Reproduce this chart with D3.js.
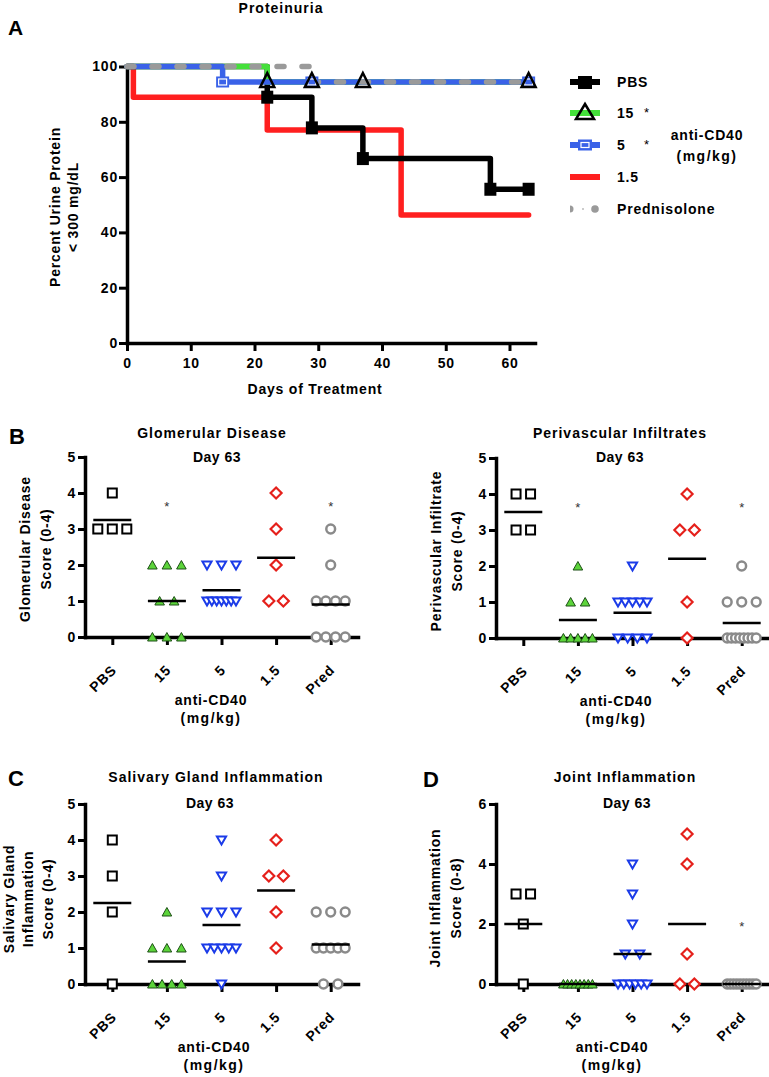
<!DOCTYPE html>
<html>
<head>
<meta charset="utf-8">
<script src="https://cdn.jsdelivr.net/npm/d3@7"></script>
<style>
body { margin:0; background:#fff; }
</style>
</head>
<body>
<div id="plothere"></div>
<script>
var FONT = '"Liberation Sans", Arial, Helvetica, sans-serif';

// ---- panel A data (Kaplan-Meier, percent urine protein < 300 mg/dL)
var dayTicks = [0, 10, 20, 30, 40, 50, 60];
var pctTicks = [0, 20, 40, 60, 80, 100];
var kmLabels = ["PBS", "15", "5", "1.5", "Prednisolone"];
var pbsDays = [0, 22, 29, 37, 57, 63], pbsPct = [100, 88.9, 77.8, 66.7, 55.6, 55.6];
var d15Days = [0, 22, 63], d15Pct = [100, 94.4, 94.4];
var d5Days = [0, 15, 63], d5Pct = [100, 94.4, 94.4];
var d1_5Days = [0, 1, 22, 43, 63], d1_5Pct = [100, 88.9, 77.0, 46.3, 46.3];
var predDays = [0, 29, 63], predPct = [100, 94.4, 94.4];
var pbsMarks = [22, 29, 37, 57, 63];
var d15Marks = [22, 29, 37, 63];
var d5Marks = [15, 29, 63];

// ---- panels B-D data (individual scores, day 63)
var groups = ["PBS", "15", "5", "1.5", "Pred"];
var glomScores = [[4,3,3,3], [2,2,2,1,1,0,0,0], [2,2,2,1,1,1,1,1,1,1], [4,3,2,1,1], [3,2,1,1,1,1,0,0,0,0]];
var periScores = [[4,4,3,3], [2,1,1,0,0,0,0,0], [2,1,1,1,1,1,0,0,0,0], [4,3,3,1,0], [2,1,1,1,0,0,0,0,0,0,0,0]];
var salivScores = [[4,3,2,0], [2,1,1,1,0,0,0,0], [4,3,2,2,2,1,1,1,1,1,0], [4,3,3,2,1], [2,2,2,1,1,1,1,1,0,0]];
var jointScores = [[3,3,2,0], [0,0,0,0,0,0,0,0], [4,3,2,1,1,0,0,0,0,0,0], [5,4,1,0,0], [0,0,0,0,0,0,0,0,0,0]];
// level where the significance star sits (null = none)
var glomStars = [null, 3.7, null, null, 3.7];
var periStars = [null, 3.7, null, null, 3.7];
var salivStars = [null, null, null, null, null];
var jointStars = [null, null, null, null, 2];

var svg = d3.select("#plothere").append("svg")
  .attr("width", 769).attr("height", 1077)
  .style("background", "#fff")
  .attr("font-family", FONT).attr("font-weight", "bold");

function txt(g, x, y, s, size, anchor, ls) {
  return g.append("text").attr("x", x).attr("y", y).text(s)
    .attr("font-size", size || 14).attr("text-anchor", anchor || "middle")
    .attr("letter-spacing", ls == null ? 0.8 : ls).attr("fill", "#000");
}
function vtxt(g, x, y, s) {
  return g.append("text").attr("transform", "translate(" + x + "," + y + ") rotate(-90)")
    .attr("text-anchor", "middle").attr("font-size", 14).attr("letter-spacing", 0.8).text(s);
}
function styleAxis(a) {
  a.attr("font-family", FONT).attr("font-size", 14).attr("font-weight", "bold");
  a.select(".domain").attr("stroke", "#000").attr("stroke-width", 3.5).attr("stroke-linecap", "square");
  a.selectAll(".tick line").attr("stroke", "#000").attr("stroke-width", 3);
  a.selectAll(".tick text").attr("fill", "#000").attr("letter-spacing", 0.8);
}

// ================= Panel A =================
var gA = svg.append("g");
var xA = d3.scaleLinear().domain([0, 64]).range([127, 535]);
var yA = d3.scaleLinear().domain([0, 100]).range([343, 66.5]);
txt(gA, 281, 13, "Proteinuria", 14, "middle", 1);
txt(gA, 8, 35, "A", 21, "start", 0);

var axA = gA.append("g").attr("transform", "translate(0,343)")
  .call(d3.axisBottom(xA).tickValues(dayTicks).tickSize(8).tickSizeOuter(0).tickPadding(7).tickFormat(d3.format("d")));
styleAxis(axA);
var ayA = gA.append("g").attr("transform", "translate(127,0)")
  .call(d3.axisLeft(yA).tickValues(pctTicks).tickSize(8).tickSizeOuter(0).tickPadding(1).tickFormat(d3.format("d")));
styleAxis(ayA);
txt(gA, 315, 394, "Days of Treatment");
vtxt(gA, 60, 207, "Percent Urine Protein");
vtxt(gA, 78, 207, "< 300 mg/dL");

function zip(ds, ps) { return ds.map(function(d, i) { return [d, ps[i]]; }); }
var km = [
  {name: "1.5", pts: zip(d1_5Days, d1_5Pct), color: "#ff1f1f", dash: null},
  {name: "PBS", pts: zip(pbsDays, pbsPct), color: "#000000", dash: null},
  {name: "15", pts: zip(d15Days, d15Pct), color: "#44e03a", dash: null},
  {name: "5", pts: zip(d5Days, d5Pct), color: "#3a62e8", dash: null},
  {name: "Prednisolone", pts: zip(predDays, predPct), color: "#9a9a9a", dash: "7,18"}
];
var kmLine = d3.line().curve(d3.curveStepAfter)
  .x(function(d) { return xA(d[0]); }).y(function(d) { return yA(d[1]); });
gA.append("g").selectAll("path").data(km).enter().append("path")
  .attr("d", function(d) { return kmLine(d.pts); })
  .attr("fill", "none").attr("stroke", function(d) { return d.color; })
  .attr("stroke-width", 5.5).attr("stroke-linejoin", "round").attr("stroke-linecap", "round")
  .attr("stroke-dasharray", function(d) { return d.dash; });

function valAt(ds, ps, t) { var v = ps[0]; ds.forEach(function(d, i) { if (d <= t) v = ps[i]; }); return v; }
// markers
gA.append("g").selectAll("rect").data(pbsMarks).enter().append("rect")
  .attr("x", function(d) { return xA(d) - 6; }).attr("y", function(d) { return yA(valAt(pbsDays, pbsPct, d)) - 6.5; })
  .attr("width", 12).attr("height", 13).attr("fill", "#000");
var bm = gA.append("g").selectAll("g").data(d5Marks).enter().append("g")
  .attr("transform", function(d) { return "translate(" + xA(d) + "," + yA(valAt(d5Days, d5Pct, d)) + ")"; });
bm.append("rect").attr("x", -6.5).attr("y", -5.5).attr("width", 13).attr("height", 11).attr("fill", "#3a62e8");
bm.append("rect").attr("x", -4).attr("y", -3).attr("width", 8).attr("height", 6).attr("fill", "none").attr("stroke", "#fff").attr("stroke-width", 1.2);
gA.append("g").selectAll("path").data(d15Marks).enter().append("path")
  .attr("d", "M0,-8L7,6L-7,6Z")
  .attr("transform", function(d) { return "translate(" + xA(d) + "," + (yA(valAt(d15Days, d15Pct, d)) - 1) + ")"; })
  .attr("fill", "none").attr("stroke", "#000").attr("stroke-width", 2.5).attr("stroke-linejoin", "miter");

// legend
var legY = [82, 113, 145, 177, 209];
var legColors = ["#000000", "#44e03a", "#3a62e8", "#ff1f1f", "#9a9a9a"];
var lg = gA.append("g");
kmLabels.forEach(function(name, i) {
  var y = legY[i];
  if (i < 4) lg.append("line").attr("x1", 570).attr("x2", 600).attr("y1", y).attr("y2", y)
    .attr("stroke", legColors[i]).attr("stroke-width", 6);
  txt(lg, 617, y + 5, name, 14, "start", 0.8);
});
lg.append("rect").attr("x", 578).attr("y", 76).attr("width", 14).attr("height", 13).attr("fill", "#000");
lg.append("path").attr("d", "M585,104L594,119L576,119Z").attr("fill", "none").attr("stroke", "#000").attr("stroke-width", 2.5);
lg.append("rect").attr("x", 578).attr("y", 139.5).attr("width", 14).attr("height", 11).attr("fill", "#3a62e8");
lg.append("rect").attr("x", 581).attr("y", 142.5).attr("width", 8).attr("height", 5).attr("fill", "none").attr("stroke", "#fff").attr("stroke-width", 1.2);
lg.append("circle").attr("cx", 570).attr("cy", 209).attr("r", 3.5).attr("fill", "#9a9a9a");
lg.append("rect").attr("x", 565).attr("y", 204).attr("width", 5).attr("height", 10).attr("fill", "#fff");
lg.append("circle").attr("cx", 583).attr("cy", 209).attr("r", 1).attr("fill", "#bbb");
lg.append("circle").attr("cx", 595).attr("cy", 209).attr("r", 3.8).attr("fill", "#9a9a9a");
txt(lg, 644, 117, "*", 13, "start", 0).attr("font-weight", "normal");
txt(lg, 644, 149, "*", 13, "start", 0).attr("font-weight", "normal");
txt(lg, 707, 140, "anti-CD40");
txt(lg, 707, 161, "(mg/kg)", 14, "middle", 1.5);

// ================= Panels B-D =================
var groupStyle = [
  {d: "M-4.5,-4.5H4.5V4.5H-4.5Z", fill: "#fff", stroke: "#000", sw: 2},
  {d: "M0,-4.5L4.8,4L-4.8,4Z", fill: "#5cd43a", stroke: "#1d4f16", sw: 1},
  {d: "M-4.6,-3.6H4.6L0,4.4Z", fill: "#fff", stroke: "#1b3be8", sw: 2},
  {d: "M0,-5.5L5.5,0L0,5.5L-5.5,0Z", fill: "#fff", stroke: "#e5201b", sw: 2.2},
  {d: "M4.4,0A4.4,4.4 0 1,1 -4.4,0A4.4,4.4 0 1,1 4.4,0Z", fill: "#fff", stroke: "#8a8a8a", sw: 2.5}
];

var panels = [
  {letter: "B", lx: 9, ly: 444, ax: 85, y0: 637, max: 5, ticks: [0,1,2,3,4,5],
   title: "Glomerular Disease", tx: 212, ty: 438, dayx: 217, dayy: 462,
   ylab: ["Glomerular Disease", "Score (0-4)"], ylx: [30, 51], ylc: 549, xt: 211,
   scores: glomScores, stars: glomStars},
  {letter: null, ax: 496, y0: 638, max: 5, ticks: [0,1,2,3,4,5],
   title: "Perivascular Infiltrates", tx: 620, ty: 438, dayx: 620, dayy: 462,
   ylab: ["Perivascular Infiltrate", "Score (0-4)"], ylx: [441, 462], ylc: 551, xt: 616,
   scores: periScores, stars: periStars},
  {letter: "C", lx: 8, ly: 786, ax: 85, y0: 984, max: 5, ticks: [0,1,2,3,4,5],
   title: "Salivary Gland Inflammation", tx: 216, ty: 782, dayx: 210, dayy: 808,
   ylab: ["Salivary Gland", "Inflammation", "Score (0-4)"], ylx: [14, 33, 53], ylc: 899, xt: 214,
   scores: salivScores, stars: salivStars},
  {letter: "D", lx: 423, ly: 787, ax: 496, y0: 984, max: 6, ticks: [0,2,4,6],
   title: "Joint Inflammation", tx: 625, ty: 782, dayx: 627, dayy: 808,
   ylab: ["Joint Inflammation", "Score (0-8)"], ylx: [440, 461], ylc: 898, xt: 612,
   scores: jointScores, stars: jointStars}
];

panels.forEach(function(p) {
  var g = svg.append("g");
  var x = d3.scalePoint().domain(groups).range([p.ax, p.ax + 273]).padding(0.5);
  var y = d3.scaleLinear().domain([0, p.max]).range([p.y0, p.y0 - 180]);

  if (p.letter) txt(g, p.lx, p.ly, p.letter, 22, "start", 0);
  txt(g, p.tx, p.ty, p.title, 14, "middle", 1);
  txt(g, p.dayx, p.dayy, "Day 63", 14, "middle", 0.5);
  p.ylab.forEach(function(s, i) { vtxt(g, p.ylx[i], p.ylc, s); });

  var gx = g.append("g").attr("transform", "translate(0," + p.y0 + ")")
    .call(d3.axisBottom(x).tickSize(8).tickSizeOuter(0).tickFormat(""));
  styleAxis(gx);
  var gy = g.append("g").attr("transform", "translate(" + p.ax + ",0)")
    .call(d3.axisLeft(y).tickValues(p.ticks).tickSize(7).tickSizeOuter(0).tickPadding(2).tickFormat(d3.format("d")));
  styleAxis(gy);

  g.append("g").selectAll("text").data(groups).enter().append("text")
    .attr("transform", function(d) { return "translate(" + (x(d) + 5) + "," + (p.y0 + 34) + ") rotate(-45)"; })
    .attr("text-anchor", "end").attr("font-size", 14).attr("letter-spacing", 0.8).text(function(d) { return d; });
  txt(g, p.xt, p.y0 + 68, "anti-CD40");
  txt(g, p.xt, p.y0 + 86, "(mg/kg)", 14, "middle", 1.5);

  // points: duplicates spread sideways around the column centre
  var pts = [];
  p.scores.forEach(function(vals, i) {
    var counts = d3.rollup(vals, function(v) { return v.length; }, function(d) { return d; });
    var seen = new Map();
    vals.forEach(function(v) {
      var k = counts.get(v), j = seen.get(v) || 0;
      seen.set(v, j + 1);
      var span = Math.min(14.5 * (k - 1), 29);
      var off = k > 1 ? -span / 2 + j * span / (k - 1) : 0;
      pts.push({gi: i, v: v, off: off});
    });
  });
  g.append("g").selectAll("path").data(pts).enter().append("path")
    .attr("d", function(d) { return groupStyle[d.gi].d; })
    .attr("transform", function(d) { return "translate(" + (x(groups[d.gi]) + d.off) + "," + y(d.v) + ")"; })
    .attr("fill", function(d) { return groupStyle[d.gi].fill; })
    .attr("stroke", function(d) { return groupStyle[d.gi].stroke; })
    .attr("stroke-width", function(d) { return groupStyle[d.gi].sw; });

  // mean lines
  g.append("g").selectAll("line").data(p.scores).enter().append("line")
    .attr("x1", function(d, i) { return x(groups[i]) - 19; })
    .attr("x2", function(d, i) { return x(groups[i]) + 19; })
    .attr("y1", function(d) { return y(d3.mean(d)); })
    .attr("y2", function(d) { return y(d3.mean(d)); })
    .attr("stroke", "#000").attr("stroke-width", 2.5);

  // significance stars
  p.stars.forEach(function(s, i) {
    if (s == null) return;
    g.append("text").attr("x", x(groups[i])).attr("y", y(s) + 7).attr("text-anchor", "middle")
      .attr("font-size", 13).attr("font-weight", "normal").attr("fill", "#333").text("*");
  });
});
</script>
</body>
</html>
